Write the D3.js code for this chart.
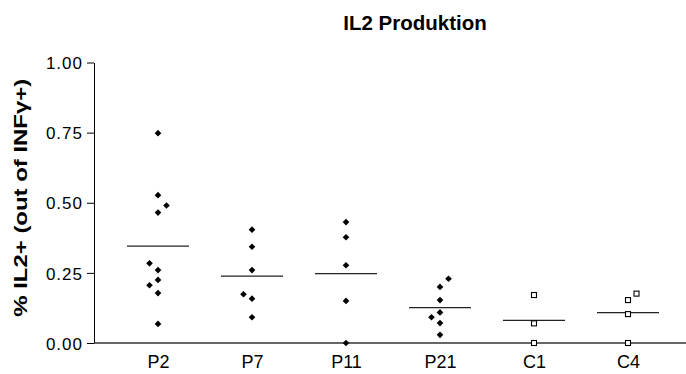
<!DOCTYPE html>
<html>
<head>
<meta charset="utf-8">
<script src="https://cdn.jsdelivr.net/npm/d3@7"></script>
<style>
  body { margin: 0; background: #fff; }
  svg { font-family: "Liberation Sans", Arial, sans-serif; }
</style>
</head>
<body>
<div id="chart"></div>
<script>
// groups along the x axis
const groups = ["P2", "P7", "P11", "P21", "C1", "C4"];
const controls = ["C1", "C4"];

// values, one list per group
const valuesP2 = [0.748, 0.527, 0.49, 0.465, 0.284, 0.26, 0.225, 0.206, 0.178, 0.068];
const valuesP7 = [0.404, 0.343, 0.26, 0.174, 0.158, 0.092];
const valuesP11 = [0.431, 0.377, 0.277, 0.15, 0.0];
const valuesP21 = [0.229, 0.2, 0.153, 0.109, 0.092, 0.071, 0.029];
const valuesC1 = [0.171, 0.07, 0.0];
const valuesC4 = [0.176, 0.153, 0.103, 0.0];

// which side a crowded point is pushed to (-1 left, 0 centre, 1 right)
const sideP2 = [0, 0, 1, 0, -1, 0, 0, -1, 0, 0];
const sideP7 = [0, 0, 0, -1, 0, 0];
const sideP11 = [0, 0, 0, 0, 0];
const sideP21 = [1, 0, 0, 0, -1, 0, 0];
const sideC1 = [0, 0, 0];
const sideC4 = [1, 0, 0, 0];

const yTicks = [0, 0.25, 0.5, 0.75, 1.0];

const values = [valuesP2, valuesP7, valuesP11, valuesP21, valuesC1, valuesC4];
const sides = [sideP2, sideP7, sideP11, sideP21, sideC1, sideC4];

const width = 686, height = 374;
const margin = { top: 62.5, right: 0, bottom: 31, left: 94 };

const svg = d3.select('#chart')
    .append('svg')
    .attr('width', width)
    .attr('height', height);

const x = d3.scalePoint()
    .domain(groups)
    .range([158, 628]);

const y = d3.scaleLinear()
    .domain([0, 1])
    .range([height - margin.bottom, margin.top]);

// title
svg.append('text')
    .attr('x', 415)
    .attr('y', 30)
    .attr('text-anchor', 'middle')
    .style('font-size', '20.5px')
    .style('font-weight', 'bold')
    .text('IL2 Produktion');

// y axis
const yAxis = svg.append('g')
    .attr('transform', `translate(${margin.left},0)`)
    .call(d3.axisLeft(y).tickValues(yTicks).tickFormat(d3.format('.2f')).tickSize(7).tickSizeOuter(0));
yAxis.select('.domain').attr('stroke', '#000');
yAxis.selectAll('.tick line').attr('stroke', '#000');
yAxis.selectAll('.tick text')
    .attr('x', -11)
    .attr('dy', '0.36em')
    .style('font-size', '17px')
    .style('letter-spacing', '1px')
    .attr('fill', '#000');

// x axis (line only, labels under each group)
const xAxis = svg.append('g')
    .attr('transform', `translate(0,${y(0)})`)
    .call(d3.axisBottom(x).tickSize(0).tickSizeOuter(0));
xAxis.select('.domain')
    .attr('d', `M${margin.left},0H${width}`)
    .attr('stroke', '#333')
    .attr('stroke-width', 1.3);
xAxis.selectAll('.tick text')
    .attr('y', 25)
    .attr('dy', 0)
    .style('font-size', '18px')
    .attr('fill', '#000');

// y label
svg.append('text')
    .attr('transform', `translate(27,${(y(0) + y(1)) / 2 - 5}) rotate(-90)`)
    .attr('text-anchor', 'middle')
    .attr('textLength', 238)
    .attr('lengthAdjust', 'spacingAndGlyphs')
    .style('font-size', '18px')
    .style('font-weight', 'bold')
    .text('% IL2+ (out of INF\u03b3+)');

const points = groups.flatMap((g, i) =>
    values[i].map((v, j) => ({ group: g, value: v, side: sides[i][j] })));

const step = 8.5;

// mean lines
svg.append('g')
    .selectAll('line')
    .data(groups)
    .join('line')
    .attr('x1', (g) => x(g) - 31)
    .attr('x2', (g) => x(g) + 31)
    .attr('y1', (g, i) => y(d3.mean(values[i])))
    .attr('y2', (g, i) => y(d3.mean(values[i])))
    .attr('stroke', '#222')
    .attr('stroke-width', 1.2);

const diamond = d3.symbol().type(d3.symbolDiamond2).size(28);

// patient points
svg.append('g')
    .selectAll('path')
    .data(points.filter((d) => !controls.includes(d.group)))
    .join('path')
    .attr('transform', (d) => `translate(${x(d.group) + d.side * step},${y(d.value)})`)
    .attr('d', diamond)
    .attr('fill', '#000');

// control points
svg.append('g')
    .selectAll('rect')
    .data(points.filter((d) => controls.includes(d.group)))
    .join('rect')
    .attr('x', (d) => x(d.group) + d.side * step - 2.5)
    .attr('y', (d) => y(d.value) - 2.5)
    .attr('width', 5)
    .attr('height', 5)
    .attr('fill', '#fff')
    .attr('stroke', '#000')
    .attr('stroke-width', 1.1);
</script>
</body>
</html>
